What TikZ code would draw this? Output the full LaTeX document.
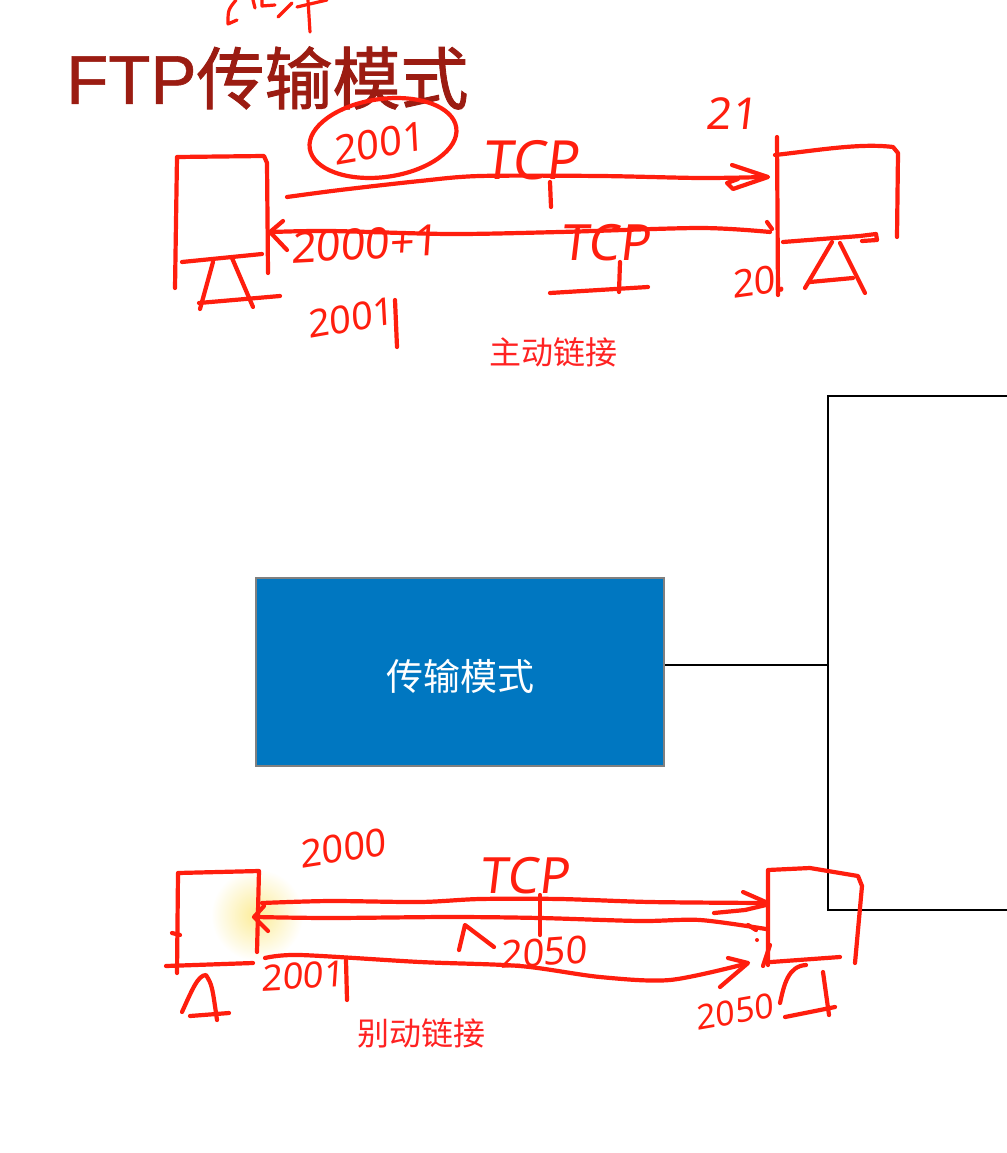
\documentclass[tikz,border=0pt]{standalone}
\usepackage{fontspec}
\newfontfamily\cjk{Noto Sans CJK SC}
\newfontfamily\cjkt[FakeBold=1.3]{Noto Sans CJK SC}
\newfontfamily\latt[FakeBold=0.8]{Liberation Sans}
\newfontfamily\hand[FakeSlant=0.12]{Noto Sans}
\definecolor{hwred}{HTML}{FF1E0E}
\definecolor{lblred}{HTML}{FF2222}
\definecolor{titlered}{HTML}{9B1C12}
\definecolor{boxblue}{HTML}{0077C1}
\definecolor{boxgray}{HTML}{808080}
\definecolor{hilite}{RGB}{252,236,150}
\tikzset{
  hw/.style={draw=hwred, line width=4.2pt, line cap=round, line join=round},
  hwthin/.style={draw=hwred, line width=3.2pt, line cap=round, line join=round},
  handtxt/.style={text=hwred, inner sep=0pt, font=\hand\fontsize{#1}{#1}\selectfont},
  cjklbl/.style={text=lblred, inner sep=0pt, font=\cjk\fontsize{32}{32}\selectfont},
}
\begin{document}
\begin{tikzpicture}[x=1pt,y=-1pt]
\useasboundingbox (0,0) rectangle (1006,1153);
\fill[white] (0,0) rectangle (1006,1153);

% title
\node[anchor=west, inner sep=0pt, text=titlered, font=\cjkt\fontsize{68}{68}\selectfont] (title) at (66,78) {{\latt\fontsize{69}{69}\selectfont FTP}传输模式};

% top scribble
\draw[hwthin] (236,0) .. controls (228,10) .. (228,24) -- (237,20);
\draw[hwthin] (253,0) -- (255,8);
\draw[hwthin] (262,0) -- (262,6) -- (275,5);
\draw[hwthin] (278,17) -- (292,3);
\draw[hwthin] (297,7) -- (327,0);
\draw[hwthin] (308,0) -- (310,32);

% ---------------- active mode ----------------
% left computer
\draw[hw] (175,288) -- (177,157) -- (264,156) -- (267,163) -- (268,273);
\draw[hw] (182,262) -- (262,254);
\draw[hw] (200,309) -- (213,262);
\draw[hw] (232,258) -- (253,307);
\draw[hw] (199,303) -- (280,296);
% right computer
\draw[hw] (777,137) -- (778,295);
\draw[hw] (775,155) .. controls (820,150) and (860,143) .. (893,147) -- (898,153) -- (897,237);
\draw[hw] (783,242) -- (860,236) -- (876,234) -- (877,240) -- (862,241);
\draw[hw] (805,288) -- (832,242);
\draw[hw] (840,243) -- (865,293);
\draw[hw] (810,282) -- (853,278);

% arrow 1 (to port 21)
\draw[hw] plot[smooth] coordinates {(287,197) (340,190) (420,181) (480,176) (600,176) (700,178) (766,177)};
\draw[hw] (732,165) -- (768,177) -- (733,189) -- (727,183) -- (738,179);
% arrow 2 (from port 20)
\draw[hw] plot[smooth] coordinates {(272,232) (330,231) (450,234) (560,232) (700,228) (770,232)};
\draw[hw] (283,221) -- (270,232) -- (287,250);
\draw[hw] (767,222) -- (772,229);

% ellipse with 2001
\draw[hw, rotate around={8:(383,138)}] (383,138) ellipse [x radius=74, y radius=39];
\node[handtxt=40, rotate=10] (p2001a) at (378,143) {2001};
\node[handtxt=54] (tcp1) at (530,160) {TCP};
\draw[hw] (550,182) -- (551,207);
\node[handtxt=43, rotate=3] (p2000p1) at (364,244) {2000+1};
\node[handtxt=50] (tcp2) at (605,243) {TCP};
\draw[hw] (620,262) -- (619,292);
\draw[hw] (550,293) -- (648,287);
\node[handtxt=38, rotate=10] (p2001b) at (350,318) {2001};
\draw[hw] (395,300) -- (397,347);
\node[handtxt=44] (p21) at (731,114) {21};
\node[handtxt=38, rotate=8] (p20) at (758,281) {20.};

\node[cjklbl] (active) at (553,352) {主动链接};

% ---------------- middle ----------------
\node[draw=boxgray, line width=2.5pt, fill=boxblue, minimum width=408pt, minimum height=188pt, inner sep=0pt] (mode) at (460,672) {};
\node[text=white, inner sep=0pt, font=\cjk\fontsize{37}{37}\selectfont] (modetxt) at (460,676) {传输模式};
\coordinate (fl) at (828,665);
\coordinate (ftl) at (828,396);
\coordinate (fbl) at (828,910);
\coordinate (ftr) at (1010,396);
\coordinate (fbr) at (1010,910);
\draw[black, line width=2.2pt] (mode.east |- fl) -- (fl);
\draw[black, line width=2.2pt] (ftr) -- (ftl) -- (fbl) -- (fbr);

% ---------------- passive mode ----------------
\shade[inner color=hilite, outer color=white] (257,915) circle (46);
% left computer
\draw[hw] (177,973) -- (178,873) -- (259,871) -- (257,952);
\draw[hw] (172,933) -- (180,935);
\draw[hw] (166,966) -- (253,963);
\draw[hw] (182,1012) .. controls (192,990) and (198,975) .. (206,975) .. controls (212,985) .. (217,1020);
\draw[hw] (190,1016) -- (229,1013);
% right computer
\draw[hw] (768,965) -- (768,870) -- (810,868) -- (858,876) -- (862,886) -- (855,963);
\draw[hw] (771,962) -- (840,957);
\draw[hw] (780,1003) .. controls (784,985) and (788,966) .. (806,965);
\draw[hw] (823,972) -- (829,1015);
\draw[hw] (785,1017) -- (835,1007);
\draw[hw] (770,945) -- (763,966);
\fill[hwred] (757,940) circle (2);

% line 1
\draw[hw] plot[smooth] coordinates {(262,903) (330,901) (420,902) (480,899) (560,899) (650,902) (766,903)};
\draw[hw] (743,892) -- (768,903);
\draw[hw] (714,913) -- (745,910) -- (766,905);
% line 2
\draw[hw] plot[smooth] coordinates {(256,917) (330,918) (450,917) (540,918) (640,921) (700,920) (766,929)};
\draw[hw] (264,906) -- (254,917) -- (268,931);
\draw[hw] (748,925) -- (756,930);
% line 3
\draw[hw] plot[smooth] coordinates {(265,958) (300,955) (420,962) (520,966) (600,977) (670,980) (745,964)};
\draw[hw] (728,958) -- (748,963) -- (720,987);

\node[handtxt=38, rotate=9] (p2000) at (342,848) {2000};
\node[handtxt=50] (tcp3) at (524,876) {TCP};
\draw[hw] (540,895) -- (540,935);
\draw[hw] (459,950) -- (465,925) -- (494,947);
\node[handtxt=38, rotate=4] (p2050a) at (543,952) {2050};
\node[handtxt=36, rotate=3] (p2001c) at (302,976) {2001};
\draw[hw] (346,960) -- (347,1000);
\node[handtxt=34, rotate=10] (p2050b) at (734,1012) {2050};

\node[cjklbl] (passive) at (421,1033) {别动链接};
\end{tikzpicture}
\end{document}
